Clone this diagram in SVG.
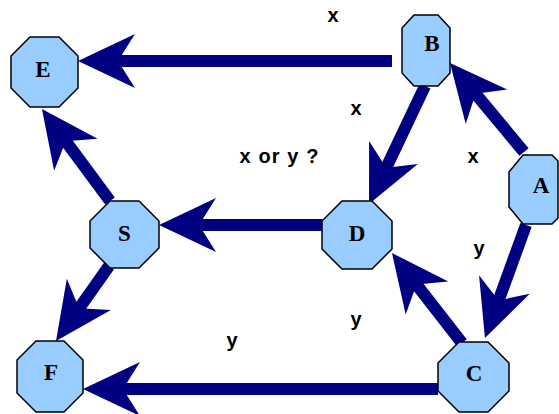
<svg xmlns="http://www.w3.org/2000/svg" width="559" height="414" viewBox="0 0 559 414">
<style>
.node polygon{fill:#99CCFF;stroke:#000;stroke-width:1.5}
.node text{font-family:"Liberation Serif","Times New Roman",serif;font-weight:bold;font-size:23px;text-anchor:middle;fill:#000}
.edge{stroke:#000080;stroke-width:12;fill:none;marker-end:url(#ah)}
.lbl{font-family:"Liberation Sans",Arial,sans-serif;font-weight:bold;font-size:20px;text-anchor:middle;fill:#000}
</style>
<defs>
<marker id="ah" viewBox="0 -30 62 60" refX="30" refY="0" markerWidth="62" markerHeight="60" markerUnits="userSpaceOnUse" orient="auto">
<path d="M60,0 L3,-27 L20,0 L3,27 Z" fill="#000080"/>
</marker>
</defs>
<rect width="559" height="414" fill="#fff"/>
<g id="connectors">
<line class="edge" x1="392" y1="61" x2="108" y2="61"/>
<line class="edge" x1="425" y1="86" x2="381.9" y2="176.9"/>
<line class="edge" x1="524" y1="152" x2="469.2" y2="86.1"/>
<line class="edge" x1="526" y1="225" x2="495.2" y2="309.8"/>
<line class="edge" x1="322" y1="225" x2="189" y2="225"/>
<line class="edge" x1="462" y1="343" x2="410.4" y2="276.7"/>
<line class="edge" x1="110" y1="201" x2="59.8" y2="133.1"/>
<line class="edge" x1="109" y1="266" x2="73.3" y2="316.5"/>
<line class="edge" x1="438" y1="389" x2="113" y2="389"/>
</g>
<g id="labels">
<text class="lbl" x="333" y="22">x</text>
<text class="lbl" x="356" y="115">x</text>
<text class="lbl" x="473" y="163">x</text>
<text class="lbl" x="279" y="163" textLength="79" lengthAdjust="spacing">x or y ?</text>
<text class="lbl" x="479" y="255">y</text>
<text class="lbl" x="356" y="326">y</text>
<text class="lbl" x="232" y="347">y</text>
</g>
<g id="node-E" class="node">
<polygon points="30,37 59,37 78,56 78,88 59,107 30,107 11,88 11,56"/>
<text x="43" y="77">E</text>
</g>
<g id="node-B" class="node">
<polygon points="414,15 438,15 450,28 450,73 438,86 414,86 402,73 402,28"/>
<text x="432" y="51">B</text>
</g>
<g id="node-A" class="node">
<polygon points="523,155 552,155 558,161 558,218 552,224 523,224 509,207 509,172"/>
<text x="541" y="193">A</text>
</g>
<g id="node-D" class="node">
<polygon points="342,201 372,201 392,221 392,249 372,269 342,269 322,249 322,221"/>
<text x="357" y="241">D</text>
</g>
<g id="node-S" class="node">
<polygon points="110,201 139,201 159,221 159,248 139,268 110,268 90,248 90,221"/>
<text x="124.5" y="241">S</text>
</g>
<g id="node-C" class="node">
<polygon points="459,342 488,342 509,363 509,391 488,412 459,412 438,391 438,363"/>
<text x="474" y="381">C</text>
</g>
<g id="node-F" class="node">
<polygon points="36,341 64,341 83,360 83,393 64,412 36,412 17,393 17,360"/>
<text x="51" y="380">F</text>
</g>
</svg>
